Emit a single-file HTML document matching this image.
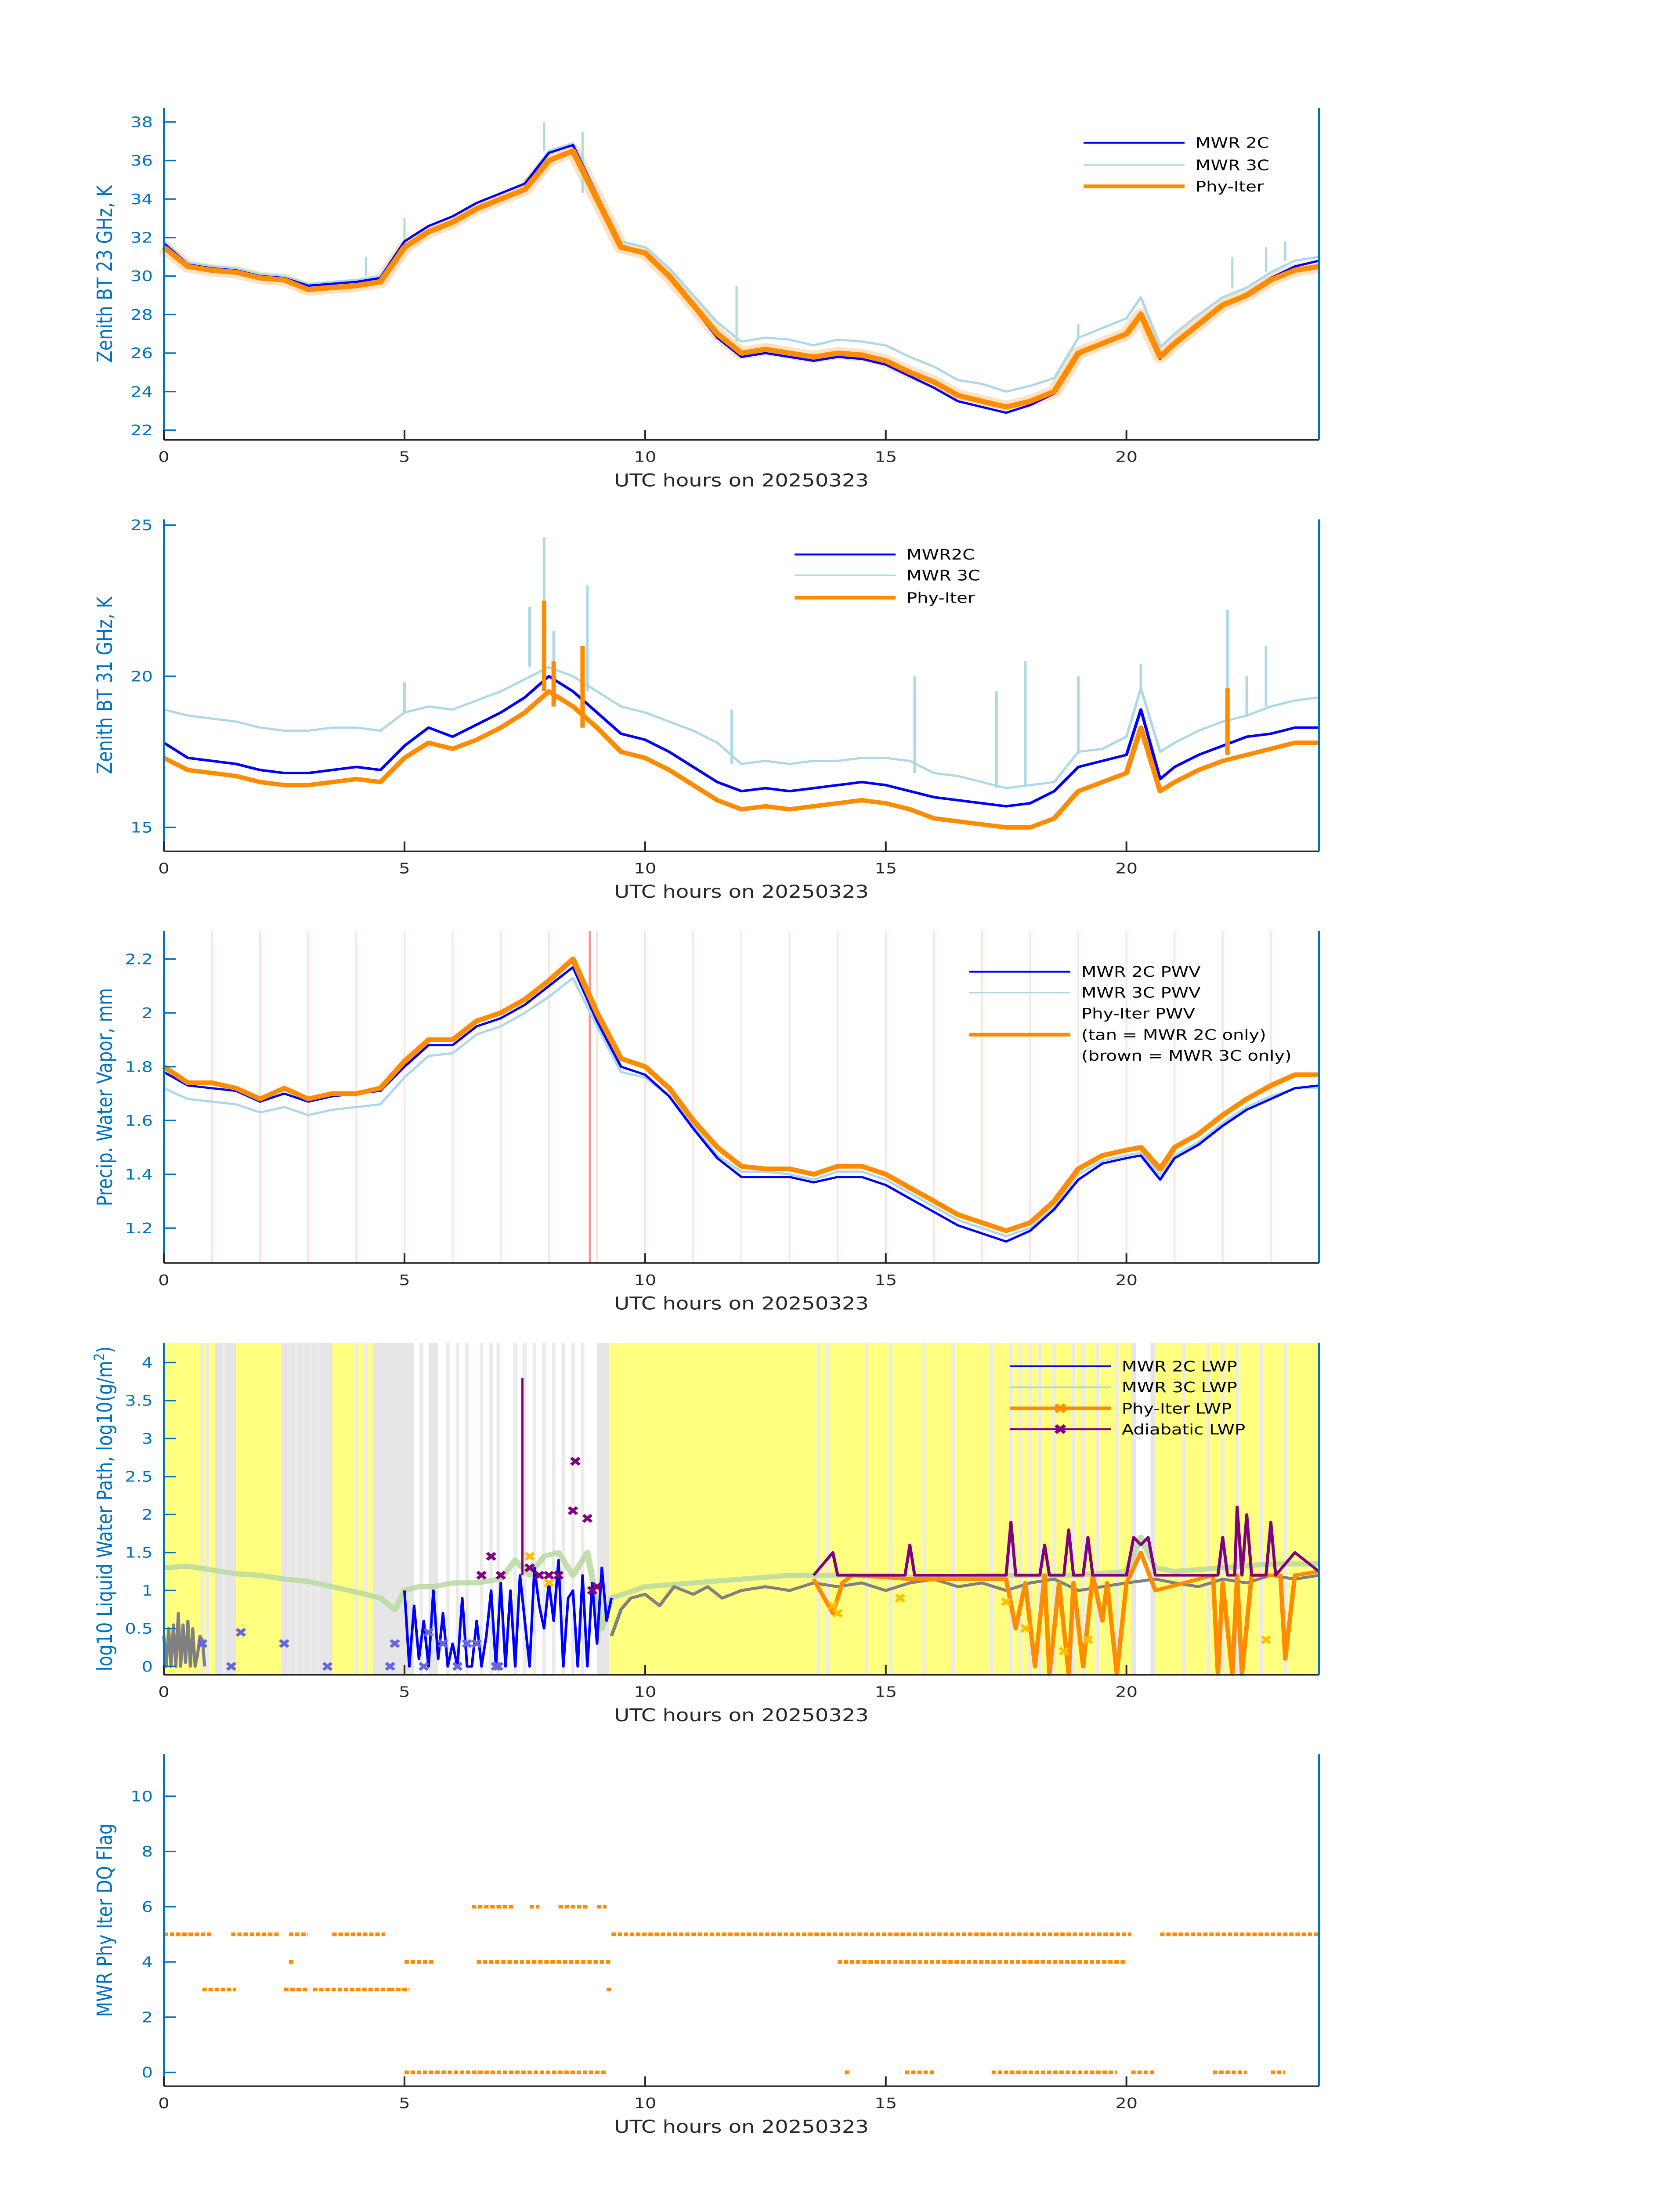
<!DOCTYPE html>
<html><head><meta charset="utf-8"><style>html,body{margin:0;padding:0;background:#fff;width:100%;height:100%;overflow:hidden}svg{display:block;position:absolute;left:0;top:0;width:100vw;height:100vh}text{font-family:"DejaVu Sans","Liberation Sans",sans-serif}</style></head>
<body>
<svg id="c" xmlns="http://www.w3.org/2000/svg" viewBox="0 0 3825 6000" preserveAspectRatio="none"></svg>
<script>
const T=[0,0.5,1,1.5,2,2.5,3,3.5,4,4.5,5,5.5,6,6.5,7,7.5,8,8.5,9,9.5,10,10.5,11,11.5,12,12.5,13,13.5,14,14.5,15,15.5,16,16.5,17,17.5,18,18.5,19,19.5,20,20.3,20.7,21,21.5,22,22.5,23,23.5,24];
const bt23Phy=[31.5,30.5,30.3,30.2,29.9,29.8,29.3,29.4,29.5,29.7,31.5,32.3,32.8,33.5,34,34.5,36,36.5,34,31.5,31.2,30,28.5,27,26,26.2,26,25.8,26,25.9,25.6,25,24.5,23.8,23.5,23.2,23.5,24,26,26.5,27,28,25.8,26.5,27.5,28.5,29,29.8,30.3,30.5];
const bt232C=[31.7,30.6,30.4,30.3,30.0,29.9,29.5,29.6,29.7,29.9,31.8,32.6,33.1,33.8,34.3,34.8,36.4,36.8,34.2,31.6,31.2,30,28.4,26.8,25.8,26.0,25.8,25.6,25.8,25.7,25.4,24.8,24.2,23.5,23.2,22.9,23.3,23.9,25.9,26.5,27,28.1,25.7,26.4,27.5,28.5,29.1,29.9,30.5,30.8];
const bt233C=[31.8,30.7,30.5,30.4,30.1,30.0,29.6,29.7,29.8,30.0,31.8,32.6,33.1,33.8,34.3,34.8,36.5,36.9,34.3,31.8,31.5,30.4,29,27.6,26.6,26.8,26.7,26.4,26.7,26.6,26.4,25.8,25.3,24.6,24.4,24.0,24.3,24.7,26.8,27.3,27.8,28.9,26.3,27,28,28.9,29.4,30.2,30.8,31];
const bt23SpikeT=[4.2,5.0,7.9,8.7,11.9,19.0,22.2,22.9,23.3];
const bt23SpikeV=[31.0,33.0,38.0,37.5,29.5,27.5,31.0,31.5,31.8];
const bt31Phy=[17.3,16.9,16.8,16.7,16.5,16.4,16.4,16.5,16.6,16.5,17.3,17.8,17.6,17.9,18.3,18.8,19.5,19,18.3,17.5,17.3,16.9,16.4,15.9,15.6,15.7,15.6,15.7,15.8,15.9,15.8,15.6,15.3,15.2,15.1,15,15,15.3,16.2,16.5,16.8,18.3,16.2,16.5,16.9,17.2,17.4,17.6,17.8,17.8];
const bt312C=[17.8,17.3,17.2,17.1,16.9,16.8,16.8,16.9,17.0,16.9,17.7,18.3,18.0,18.4,18.8,19.3,20.0,19.5,18.8,18.1,17.9,17.5,17.0,16.5,16.2,16.3,16.2,16.3,16.4,16.5,16.4,16.2,16.0,15.9,15.8,15.7,15.8,16.2,17.0,17.2,17.4,18.9,16.6,17.0,17.4,17.7,18.0,18.1,18.3,18.3];
const bt313C=[18.9,18.7,18.6,18.5,18.3,18.2,18.2,18.3,18.3,18.2,18.8,19.0,18.9,19.2,19.5,19.9,20.3,20.0,19.5,19.0,18.8,18.5,18.2,17.8,17.1,17.2,17.1,17.2,17.2,17.3,17.3,17.2,16.8,16.7,16.5,16.3,16.4,16.5,17.5,17.6,18,19.6,17.5,17.8,18.2,18.5,18.7,19,19.2,19.3];
const bt31SpikeT=[5.0,7.6,7.9,8.1,8.8,11.8,15.6,17.3,17.9,19.0,20.3,22.1,22.5,22.9];
const bt31SpikeV=[19.8,22.3,24.6,21.5,23.0,18.9,20.0,19.5,20.5,20.0,20.4,22.2,20.0,21.0];
const bt31PhySpikeT=[7.9,8.1,8.7,22.1];
const bt31PhySpikeV=[22.5,20.5,21.0,19.6];
const pwvPhy=[1.8,1.74,1.74,1.72,1.68,1.72,1.68,1.7,1.7,1.72,1.82,1.9,1.9,1.97,2.0,2.05,2.12,2.2,2.0,1.83,1.8,1.72,1.6,1.5,1.43,1.42,1.42,1.4,1.43,1.43,1.4,1.35,1.3,1.25,1.22,1.19,1.22,1.3,1.42,1.47,1.49,1.5,1.42,1.5,1.55,1.62,1.68,1.73,1.77,1.77];
const pwv2C=[1.78,1.73,1.72,1.71,1.67,1.7,1.67,1.69,1.7,1.71,1.8,1.88,1.88,1.95,1.98,2.03,2.1,2.17,1.97,1.8,1.77,1.69,1.57,1.46,1.39,1.39,1.39,1.37,1.39,1.39,1.36,1.31,1.26,1.21,1.18,1.15,1.19,1.27,1.38,1.44,1.46,1.47,1.38,1.46,1.51,1.58,1.64,1.68,1.72,1.73];
const pwv3C=[1.72,1.68,1.67,1.66,1.63,1.65,1.62,1.64,1.65,1.66,1.76,1.84,1.85,1.92,1.95,2.0,2.06,2.13,1.95,1.78,1.76,1.69,1.58,1.47,1.41,1.41,1.4,1.38,1.41,1.41,1.38,1.33,1.28,1.23,1.2,1.17,1.2,1.28,1.4,1.45,1.47,1.48,1.4,1.47,1.52,1.59,1.65,1.69,1.72,1.72];
const TL=[0,1,2,3,4,5,6,7,8,9,10,11,12,13,14,15,16,17,18,19,20,21,22,23,24];
const T3=[0,0.5,1,1.5,2,2.5,3,3.5,4,4.5,4.8,5.0,5.3,5.6,6,6.5,7,7.3,7.6,7.9,8.2,8.5,8.8,9.1,9.3,10,11,12,13,14,15,16,17,18,19,20,20.3,20.6,21,22,23,24];
const lwp3C=[1.3,1.32,1.27,1.22,1.2,1.15,1.12,1.05,0.98,0.9,0.75,1.0,1.05,1.05,1.1,1.1,1.15,1.4,1.2,1.45,1.5,1.2,1.5,0.5,0.9,1.05,1.1,1.15,1.2,1.2,1.2,1.15,1.2,1.2,1.2,1.25,1.7,1.3,1.25,1.3,1.35,1.35];
const TB=[5.0,5.1,5.2,5.3,5.4,5.5,5.6,5.7,5.8,5.9,6.0,6.1,6.2,6.3,6.4,6.5,6.6,6.7,6.8,6.9,7.0,7.1,7.2,7.3,7.4,7.5,7.6,7.7,7.8,7.9,8.0,8.1,8.2,8.3,8.4,8.5,8.6,8.7,8.8,8.9,9.0,9.1,9.2,9.3];
const lwp2Cblue=[1.0,0.0,0.8,0.1,0.6,0.0,1.0,0.1,0.7,0.0,0.3,0.0,0.9,0.0,0.0,0.6,0.0,0.4,1.0,0.0,1.1,0.0,1.0,0.0,1.2,0.6,0.0,1.3,0.8,0.5,1.1,0.6,1.4,0.0,0.9,1.0,0.0,1.2,0.0,1.1,0.3,1.3,0.6,0.9];
const TG0=[0,0.05,0.1,0.15,0.2,0.25,0.3,0.35,0.4,0.45,0.5,0.55,0.6,0.65,0.7,0.75,0.8,0.85];
const lwpGray0=[0.4,0.0,0.5,0.0,0.55,0.0,0.7,0.0,0.55,0.05,0.6,0.0,0.5,0.0,0.15,0.4,0.35,0.0];
const TG=[9.3,9.5,9.7,10,10.3,10.6,11,11.3,11.6,12,12.5,13,13.5,14,14.5,15,15.5,16,16.5,17,17.5,18,18.5,19,19.5,20,20.6,21,21.5,22,22.5,23,23.5,24];
const lwpGray=[0.4,0.75,0.9,0.95,0.8,1.05,0.95,1.05,0.9,1.0,1.05,1.0,1.1,1.05,1.1,1.0,1.1,1.15,1.05,1.1,1.0,1.1,1.15,1.0,1.05,1.1,1.15,1.1,1.05,1.15,1.1,1.2,1.15,1.2];
const TA=[13.5,13.9,14.0,15.4,15.5,15.6,17.5,17.6,17.7,18.2,18.3,18.4,18.7,18.8,18.9,19.1,19.2,19.3,20.0,20.15,20.3,20.45,20.6,21.9,22.0,22.1,22.25,22.3,22.4,22.5,22.6,22.9,23.0,23.1,23.5,24];
const lwpAdi=[1.2,1.5,1.2,1.2,1.6,1.2,1.2,1.9,1.2,1.2,1.6,1.2,1.2,1.8,1.2,1.2,1.7,1.2,1.2,1.7,1.6,1.7,1.2,1.2,1.7,1.2,1.2,2.1,1.2,2.0,1.2,1.2,1.9,1.2,1.5,1.25];
const TP=[13.5,13.9,14.1,14.3,15.5,17.5,17.7,17.9,18.1,18.3,18.4,18.6,18.8,18.9,19.1,19.3,19.5,19.6,19.8,20.0,20.3,20.6,21.8,21.9,22.0,22.2,22.3,22.4,22.6,23.2,23.3,23.5,24];
const lwpPhy=[1.15,0.7,1.1,1.2,1.15,1.15,0.5,1.1,0.0,1.2,-0.1,1.1,-0.1,1.1,0.0,1.2,0.6,1.1,-0.1,1.1,1.5,1.0,1.2,-0.1,1.1,-0.1,1.2,-0.1,1.2,1.2,0.1,1.2,1.25];
const xBlueT=[0.8,1.4,1.6,2.5,3.4,4.7,4.8,5.4,5.5,5.8,6.1,6.3,6.5,6.9,6.95];
const xBlueV=[0.3,0.0,0.45,0.3,0.0,0.0,0.3,0.0,0.45,0.3,0.0,0.3,0.3,0.0,0.0];
const xPurpT=[6.6,6.8,7.0,7.6,7.8,8.0,8.2,8.5,8.55,8.8,8.9,9.0];
const xPurpV=[1.2,1.45,1.2,1.3,1.2,1.2,1.2,2.05,2.7,1.95,1.0,1.05];
const xOrT=[7.6,8.0,13.9,14.0,15.3,17.5,17.9,18.7,19.2,22.9];
const xOrV=[1.45,1.1,0.8,0.7,0.9,0.85,0.5,0.2,0.35,0.35];
const yellowBands=[[0,1.06],[1.5,2.45],[3.5,4.34],[9.25,20.1],[20.6,24]];
const grayBands=[[1.06,1.5],[2.45,3.5],[4.34,5.2],[5.5,5.7],[9.0,9.25],[20.1,20.2],[20.5,20.6]];
const thinLines=[0.8,0.9,1.25,2.6,2.75,2.9,3.05,3.2,4.0,4.2,5.35,5.9,6.1,6.3,6.6,6.8,6.95,7.3,7.5,7.7,7.9,8.1,8.3,8.5,8.7,13.6,13.8,14.6,15.1,15.8,16.4,17.2,17.6,17.8,18.0,18.2,18.5,18.9,19.1,19.4,19.8,21.2,21.7,22.0,22.3,22.8,23.3];
const flagVal=[5,5,5,5,5,5,3,3,3,3,3,4,4,4,4,6,6,6,6,0,0,0,0,0,0,0];
const flagStart=[0,1.4,2.6,3.5,9.3,20.7,0.8,2.5,3.1,4.7,9.2,2.6,5.0,6.5,14.0,6.4,7.6,8.2,9.0,5.0,14.15,15.4,17.2,20.1,21.8,23.0];
const flagEnd=[1.0,2.4,3.0,4.6,20.1,24,1.5,3.0,4.7,5.1,9.3,2.7,5.6,9.3,20.0,7.3,7.8,8.8,9.2,9.2,14.25,16.0,19.8,20.6,22.5,23.3];
const xTicks=[0,5,10,15,20];

const svg=document.getElementById('c');const NS='http://www.w3.org/2000/svg';
function mk(tag,at,parent){const e=document.createElementNS(NS,tag);for(const k in at)e.setAttribute(k,at[k]);(parent||svg).appendChild(e);return e;}
const L=373,R=3003,H=907;const sx=t=>L+(t/24)*(R-L);
function panel(name,top,ymin,ymax,yticks,ylab,fmt){
 const g=mk('g',{});
 const sy=v=>top+H-(v-ymin)/(ymax-ymin)*H;
 return {g,sy,top,axes(){
  const a=mk('g',{},g);
  mk('line',{x1:L,y1:top+H,x2:R,y2:top+H,stroke:'#262626','stroke-width':4},a);
  mk('line',{x1:L,y1:top,x2:L,y2:top+H,stroke:'#0072BD','stroke-width':4},a);
  mk('line',{x1:R,y1:top,x2:R,y2:top+H,stroke:'#0072BD','stroke-width':4},a);
  xTicks.forEach(t=>{mk('line',{x1:sx(t),y1:top+H,x2:sx(t),y2:top+H-27,stroke:'#262626','stroke-width':4},a);
   const tx=mk('text',{x:sx(t),y:top+H+60,'font-size':40,'text-anchor':'middle',fill:'#262626'},a);tx.textContent=t;
   });
  yticks.forEach(v=>{mk('line',{x1:L,y1:sy(v),x2:L+27,y2:sy(v),stroke:'#0072BD','stroke-width':4},a);
   const tx=mk('text',{x:L-25,y:sy(v)+14,'font-size':40,'text-anchor':'end',fill:'#0072BD'},a);tx.textContent=fmt(v);
   });
  const xl=mk('text',{x:(L+R)/2,y:top+H+127,'font-size':48,'text-anchor':'middle',fill:'#262626'},a);xl.textContent='UTC hours on 20250323';
  
  const yl=mk('text',{x:0,y:0,'font-size':48,'text-anchor':'middle',fill:'#0072BD',transform:`translate(255,${top+H/2}) rotate(-90)`},a);yl.innerHTML=ylab;
  
 }};
}
function line(p,ts,vs,col,w,nm,op){const d=ts.map((t,i)=>(i?'L':'M')+sx(t).toFixed(1)+','+p.sy(vs[i]).toFixed(1)).join('');
 const e=mk('path',{d,fill:'none',stroke:col,'stroke-width':w,'stroke-linejoin':'round','stroke-opacity':op||1},p.g);
 return e;}
function spikes(p,ts,vs,base,col,w,nm){ts.forEach((t,i)=>{let b=base[0];for(let k=0;k<base[1].length;k++){if(base[1][k]>=t){b=base[2][k];break;}}
 const e=mk('line',{x1:sx(t),y1:p.sy(b),x2:sx(t),y2:p.sy(vs[i]),stroke:col,'stroke-width':w},p.g);});}
function legend(p,x,ys,items){const g=mk('g',{},p.g);
 items.forEach((it,i)=>{if(it[1]){const l=mk('line',{x1:x,y1:ys[i],x2:x+230,y2:ys[i],stroke:it[1],'stroke-width':it[2]},g);
  if(it[3]){const m=mk('text',{x:x+115,y:ys[i]+14,'font-size':40,'text-anchor':'middle',fill:it[1],'font-weight':'bold'},g);m.textContent='✖';}}
  const t=mk('text',{x:x+255,y:ys[i]+14,'font-size':40,fill:'#000'},g);t.textContent=it[0];});}
function xmark(p,ts,vs,col,nm){ts.forEach((t,i)=>{const m=mk('text',{x:sx(t),y:p.sy(vs[i])+13,'font-size':36,'text-anchor':'middle',fill:col,'font-weight':'bold'},p.g);m.textContent='✖';
 });}

// Panel 1
let p=panel('bt23-panel',295,21.49,38.73,[22,24,26,28,30,32,34,36,38],'Zenith BT 23 GHz, K',v=>v);
line(p,T,bt23Phy,'#ffe2c4',34,'phy-iter-uncertainty-band');
line(p,T,bt233C,'#add8e6',6,'mwr-3c-line');spikes(p,bt23SpikeT,bt23SpikeV,[30,T,bt233C],'#add8e6',5,'mwr-3c-spike');
line(p,T,bt232C,'#0000ff',6,'mwr-2c-line');line(p,T,bt23Phy,'#ff8c00',14,'phy-iter-line');
p.axes();legend(p,2467,[390,451,509],[['MWR 2C','#0000ff',5],['MWR 3C','#add8e6',4],['Phy-Iter','#ff8c00',10]]);
// Panel 2
p=panel('bt31-panel',1419,14.21,25.19,[15,20,25],'Zenith BT 31 GHz, K',v=>v);
line(p,T,bt313C,'#add8e6',6,'mwr-3c-line');spikes(p,bt31SpikeT,bt31SpikeV,[18,T,bt313C],'#add8e6',6,'mwr-3c-spike');
line(p,T,bt312C,'#0000ff',7,'mwr-2c-line');line(p,T,bt31Phy,'#ff8c00',12,'phy-iter-line');
spikes(p,bt31PhySpikeT,bt31PhySpikeV,[17,T,bt31Phy],'#ff8c00',10,'phy-iter-spike');
p.axes();legend(p,1809,[1515,1572,1633],[['MWR2C','#0000ff',5],['MWR 3C','#add8e6',4],['Phy-Iter','#ff8c00',10]]);
// Panel 3
p=panel('pwv-panel',2544,1.07,2.304,[1.2,1.4,1.6,1.8,2,2.2],'Precip. Water Vapor, mm',v=>v);
TL.forEach(t=>{const l=mk('line',{x1:sx(t),y1:p.top,x2:sx(t),y2:p.top+H,stroke:'#fbe3da','stroke-width':4},p.g);});
{const l=mk('line',{x1:sx(8.85),y1:p.top,x2:sx(8.85),y2:p.top+H,stroke:'#e99',"stroke-width":5},p.g);}
line(p,T,pwv3C,'#add8e6',6,'mwr-3c-pwv-line');line(p,T,pwv2C,'#0000ff',6,'mwr-2c-pwv-line');line(p,T,pwvPhy,'#ff8c00',13,'phy-iter-pwv-line');
p.axes();legend(p,2207,[2655,2712,2769,2827,2884],[['MWR 2C PWV','#0000ff',5],['MWR 3C PWV','#add8e6',4],['Phy-Iter PWV',null],['(tan = MWR 2C only)','#ff8c00',10],['(brown = MWR 3C only)',null]]);
// Panel 4
p=panel('lwp-panel',3669,-0.11,4.26,[0,0.5,1,1.5,2,2.5,3,3.5,4],'log10 Liquid Water Path, log10(g/m<tspan dy="-18" font-size="32">2</tspan><tspan dy="18">)</tspan>',v=>v);
yellowBands.forEach(b=>{const r=mk('rect',{x:sx(b[0]),y:p.top,width:sx(b[1])-sx(b[0]),height:H,fill:'#ffff80'},p.g);});
grayBands.forEach(b=>{const r=mk('rect',{x:sx(b[0]),y:p.top,width:sx(b[1])-sx(b[0]),height:H,fill:'#e6e6e6'},p.g);});
thinLines.forEach(t=>{const l=mk('line',{x1:sx(t),y1:p.top,x2:sx(t),y2:p.top+H,stroke:'#ebebeb','stroke-width':8},p.g);});
line(p,T3,lwp3C,'#b9d9a0',14,'mwr-3c-lwp-line',0.85);
line(p,TG0,lwpGray0,'#808080',7,'mwr-2c-lwp-early-line');
line(p,TG,lwpGray,'#808080',8,'mwr-2c-lwp-cloud-line');
line(p,TB,lwp2Cblue,'#0000ff',6,'mwr-2c-lwp-line');
line(p,TP,lwpPhy,'#ff8c00',10,'phy-iter-lwp-line');
line(p,TA,lwpAdi,'#800080',7,'adiabatic-lwp-line');
{const s=mk('line',{x1:sx(7.45),y1:p.sy(1.2),x2:sx(7.45),y2:p.sy(3.8),stroke:'#800080','stroke-width':5},p.g);}
xmark(p,xBlueT,xBlueV,'#6666dd','mwr-2c-marker');xmark(p,xPurpT,xPurpV,'#800080','adiabatic-marker');xmark(p,xOrT,xOrV,'#ffc000','phy-iter-marker');
p.axes();legend(p,2299,[3733,3790,3848,3905],[['MWR 2C LWP','#0000ff',5],['MWR 3C LWP','#add8e6',4],['Phy-Iter LWP','#ff8c00',10,1],['Adiabatic LWP','#800080',5,1]]);
// Panel 5
p=panel('dq-flag-panel',4793,-0.5,11.52,[0,2,4,6,8,10],'MWR Phy Iter DQ Flag',v=>v);
flagVal.forEach((v,i)=>{const l=mk('line',{x1:sx(flagStart[i]),y1:p.sy(v),x2:sx(flagEnd[i]),y2:p.sy(v),stroke:'#ff8c00','stroke-width':10,'stroke-dasharray':'10 4'},p.g);
 });
p.axes();
</script>
</body></html>
